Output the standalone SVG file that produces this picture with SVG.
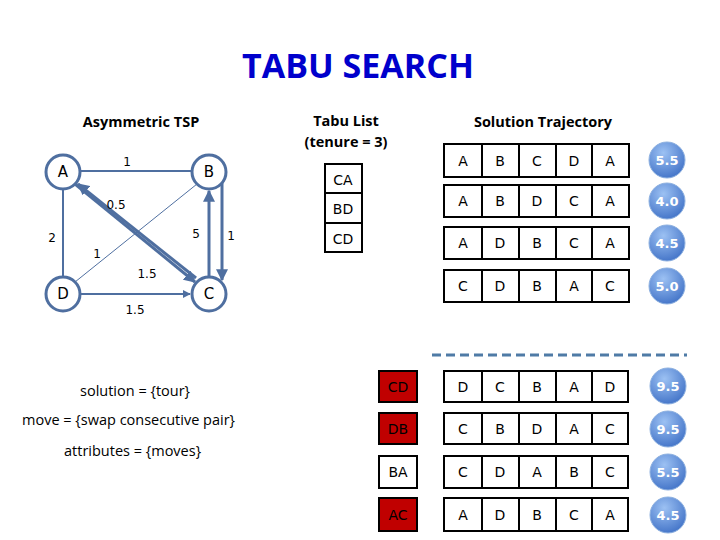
<svg xmlns="http://www.w3.org/2000/svg" width="720" height="540" viewBox="0 0 720 540">
<style>
.t{font-family:"Open Sans","Liberation Sans",sans-serif;font-size:14.5px;fill:#000}
.h{font-family:"Open Sans","Liberation Sans",sans-serif;font-size:14.5px;font-weight:bold;fill:#000}
.n{font-family:"DejaVu Sans",sans-serif;font-size:15px;fill:#000;text-anchor:middle}
.c{font-family:"DejaVu Sans",sans-serif;font-size:14px;fill:#000;text-anchor:middle}
.w{font-family:"DejaVu Sans",sans-serif;font-size:13px;font-weight:bold;fill:#fff;text-anchor:middle}
.e{font-family:"DejaVu Sans",sans-serif;font-size:12px;fill:#000;text-anchor:middle}
.node{fill:#fff;stroke:#4f6fa0;stroke-width:3}
.ln{stroke:#4f6fa0;stroke-width:2;fill:none}
.thk{stroke:#4f6fa0;stroke-width:3;fill:none}
.box{fill:#fff;stroke:#000;stroke-width:2}
.red{fill:#c00000;stroke:#000;stroke-width:2}
.ball{fill:url(#g);stroke:#8eb1e0;stroke-width:1}
</style>
<defs>
<marker id="ar" viewBox="0 0 10 10" refX="9" refY="5" markerWidth="4" markerHeight="4" orient="auto"><path d="M0,0L10,5L0,10z" fill="#4f6fa0"/></marker>
<radialGradient id="g" cx="0.4" cy="0.3" r="0.8"><stop offset="0" stop-color="#9cc1f3"/><stop offset="1" stop-color="#3b6dc4"/></radialGradient>
</defs>
<text x="358" y="78" text-anchor="middle" font-family="'Open Sans','Liberation Sans',sans-serif" font-size="34" font-weight="bold" fill="#0000cc">TABU SEARCH</text>
<text class="h" x="141" y="127" text-anchor="middle">Asymmetric TSP</text>
<text class="h" x="346" y="126" text-anchor="middle">Tabu List</text>
<text class="h" x="346" y="147" text-anchor="middle">(tenure = 3)</text>
<text class="h" x="543" y="127" text-anchor="middle">Solution Trajectory</text>
<g id="edges">
<line class="ln" x1="80" y1="171" x2="192" y2="171"/>
<line class="ln" x1="63" y1="189" x2="63" y2="277"/>
<line class="ln" x1="80" y1="294" x2="190" y2="294" marker-end="url(#ar)"/>
<line stroke="#4f6fa0" stroke-width="1" x1="75" y1="282" x2="197" y2="184"/>
<line class="thk" x1="75" y1="184" x2="195" y2="282" marker-end="url(#ar)"/>
<line class="thk" x1="196" y1="278" x2="78" y2="184" marker-end="url(#ar)"/>
<line class="thk" x1="209" y1="277" x2="209" y2="191" marker-end="url(#ar)"/>
<line class="thk" x1="222" y1="178" x2="222" y2="280" marker-end="url(#ar)"/>
<text class="e" x="127" y="166">1</text>
<text class="e" x="52" y="242">2</text>
<text class="e" x="116" y="209">0.5</text>
<text class="e" x="97" y="258">1</text>
<text class="e" x="147" y="278">1.5</text>
<text class="e" x="135" y="314">1.5</text>
<text class="e" x="196" y="238">5</text>
<text class="e" x="231" y="240">1</text>
</g>
<g id="A"><circle class="node" cx="63" cy="172" r="17"/><text class="n" x="63" y="177">A</text></g>
<g id="B"><circle class="node" cx="209" cy="172" r="17"/><text class="n" x="209" y="177">B</text></g>
<g id="D"><circle class="node" cx="63" cy="294" r="17"/><text class="n" x="63" y="299">D</text></g>
<g id="C"><circle class="node" cx="209" cy="294" r="17"/><text class="n" x="209" y="299">C</text></g>
<g id="tabu">
<rect class="box" x="325" y="164" width="37" height="29"/><text class="c" x="343" y="185">CA</text>
<rect class="box" x="325" y="193" width="37" height="30"/><text class="c" x="343" y="214">BD</text>
<rect class="box" x="325" y="223" width="37" height="29"/><text class="c" x="343" y="244">CD</text>
</g>
<g id="traj">
<rect class="box" x="444" y="144" width="185" height="33"/>
<path d="M482 144V177M519 144V177M556 144V177M592 144V177" stroke="#000" stroke-width="2"/>
<text class="c" x="463" y="166">A</text><text class="c" x="500" y="166">B</text><text class="c" x="537" y="166">C</text><text class="c" x="574" y="166">D</text><text class="c" x="610" y="166">A</text>
<circle class="ball" cx="667" cy="160" r="18"/><text class="w" x="667" y="165">5.5</text>
<rect class="box" x="444" y="185" width="185" height="32"/>
<path d="M482 185V217M519 185V217M556 185V217M592 185V217" stroke="#000" stroke-width="2"/>
<text class="c" x="463" y="206">A</text><text class="c" x="500" y="206">B</text><text class="c" x="537" y="206">D</text><text class="c" x="574" y="206">C</text><text class="c" x="610" y="206">A</text>
<circle class="ball" cx="667" cy="201" r="18"/><text class="w" x="667" y="206">4.0</text>
<rect class="box" x="444" y="227" width="185" height="32"/>
<path d="M482 227V259M519 227V259M556 227V259M592 227V259" stroke="#000" stroke-width="2"/>
<text class="c" x="463" y="248">A</text><text class="c" x="500" y="248">D</text><text class="c" x="537" y="248">B</text><text class="c" x="574" y="248">C</text><text class="c" x="610" y="248">A</text>
<circle class="ball" cx="667" cy="243" r="18"/><text class="w" x="667" y="248">4.5</text>
<rect class="box" x="444" y="270" width="185" height="32"/>
<path d="M482 270V302M519 270V302M556 270V302M592 270V302" stroke="#000" stroke-width="2"/>
<text class="c" x="463" y="291">C</text><text class="c" x="500" y="291">D</text><text class="c" x="537" y="291">B</text><text class="c" x="574" y="291">A</text><text class="c" x="610" y="291">C</text>
<circle class="ball" cx="667" cy="286" r="18"/><text class="w" x="667" y="291">5.0</text>
</g>
<line x1="432" y1="355" x2="687" y2="355" stroke="#4f7ba6" stroke-width="3" stroke-dasharray="9,5"/>
<g id="cands">
<rect class="red" x="379" y="371" width="38" height="31"/><text class="c" x="398" y="392" fill="#555">CD</text>
<rect class="box" x="444" y="371" width="184" height="31"/>
<path d="M482 371V402M519 371V402M556 371V402M592 371V402" stroke="#000" stroke-width="2"/>
<text class="c" x="463" y="392">D</text><text class="c" x="500" y="392">C</text><text class="c" x="537" y="392">B</text><text class="c" x="574" y="392">A</text><text class="c" x="610" y="392">D</text>
<circle class="ball" cx="668" cy="386" r="18"/><text class="w" x="668" y="391">9.5</text>
<rect class="red" x="379" y="413" width="38" height="31"/><text class="c" x="398" y="434" fill="#555">DB</text>
<rect class="box" x="444" y="413" width="184" height="31"/>
<path d="M482 413V444M519 413V444M556 413V444M592 413V444" stroke="#000" stroke-width="2"/>
<text class="c" x="463" y="434">C</text><text class="c" x="500" y="434">B</text><text class="c" x="537" y="434">D</text><text class="c" x="574" y="434">A</text><text class="c" x="610" y="434">C</text>
<circle class="ball" cx="668" cy="429" r="18"/><text class="w" x="668" y="434">9.5</text>
<rect class="box" x="379" y="456" width="38" height="32"/><text class="c" x="398" y="477">BA</text>
<rect class="box" x="444" y="456" width="184" height="32"/>
<path d="M482 456V488M519 456V488M556 456V488M592 456V488" stroke="#000" stroke-width="2"/>
<text class="c" x="463" y="477">C</text><text class="c" x="500" y="477">D</text><text class="c" x="537" y="477">A</text><text class="c" x="574" y="477">B</text><text class="c" x="610" y="477">C</text>
<circle class="ball" cx="668" cy="472" r="18"/><text class="w" x="668" y="477">5.5</text>
<rect class="red" x="379" y="498" width="38" height="33"/><text class="c" x="398" y="520" fill="#555">AC</text>
<rect class="box" x="444" y="498" width="184" height="33"/>
<path d="M482 498V531M519 498V531M556 498V531M592 498V531" stroke="#000" stroke-width="2"/>
<text class="c" x="463" y="520">A</text><text class="c" x="500" y="520">D</text><text class="c" x="537" y="520">B</text><text class="c" x="574" y="520">C</text><text class="c" x="610" y="520">A</text>
<circle class="ball" cx="668" cy="515" r="18"/><text class="w" x="668" y="520">4.5</text>
</g>
<text class="t" x="80" y="396">solution = {tour}</text>
<text class="t" x="22" y="425">move = {swap consecutive pair}</text>
<text class="t" x="64" y="456">attributes = {moves}</text>
</svg>
